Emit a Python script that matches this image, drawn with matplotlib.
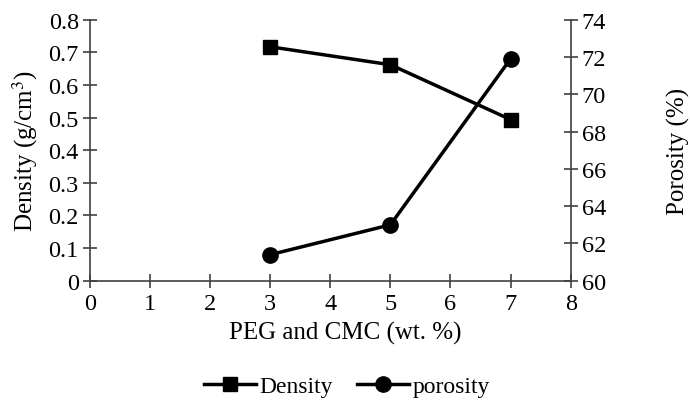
import matplotlib.pyplot as plt
from matplotlib.lines import Line2D

plt.rcParams['font.family'] = ['Liberation Serif', 'DejaVu Serif']
plt.rcParams['mathtext.fontset'] = 'stix'

peg = [3, 5, 7]
density = [0.717, 0.662, 0.494]
porosity = [61.4, 63.0, 71.9]

fig = plt.figure(figsize=(6.9, 4.06), dpi=100)
ax = fig.add_axes([0.1304, 0.306, 0.6966, 0.643])
ax2 = ax.twinx()

ax.plot(peg, density, 'k-', marker='s', markersize=10, linewidth=2.5)
ax2.plot(peg, porosity, 'k-', marker='o', markersize=11, linewidth=2.5)

ax.set_xlim(0, 8)
ax.set_ylim(0, 0.8)
ax2.set_ylim(60, 74)
ax.set_xticks(range(0, 9))
ax.set_yticks([i / 10 for i in range(9)])
ax.set_yticklabels(['0'] + ['%.1f' % (i / 10) for i in range(1, 9)])
ax2.set_yticks(range(60, 75, 2))

for a in (ax, ax2):
    a.spines['top'].set_visible(False)
    for s in a.spines.values():
        s.set_color('#404040')
        s.set_linewidth(1.2)
    a.tick_params(direction='inout', length=10, width=1.2, color='#404040',
                  labelsize=17.5, pad=3)
ax.tick_params(axis='x', pad=4)
ax2.spines['left'].set_visible(False)
ax.spines['right'].set_visible(False)
ax2.spines['bottom'].set_visible(False)

ax.set_xlabel('PEG and CMC (wt. %)', fontsize=18, labelpad=5)
ax.xaxis.set_label_coords(0.531, -0.155)
ax.set_ylabel('Density (g/cm$^3$)', fontsize=18, labelpad=6)
ax2.set_ylabel('Porosity (%)', fontsize=18, labelpad=44)

handles = [Line2D([], [], color='k', marker='s', markersize=10, linewidth=2.5),
           Line2D([], [], color='k', marker='o', markersize=11, linewidth=2.5)]
fig.legend(handles, ['Density', 'porosity'], loc='center', bbox_to_anchor=(0.503, 0.045),
           ncol=2, frameon=False, fontsize=17, handlelength=2.2, handletextpad=0.15,
           columnspacing=1.0)

fig.savefig('out.png', dpi=100)
